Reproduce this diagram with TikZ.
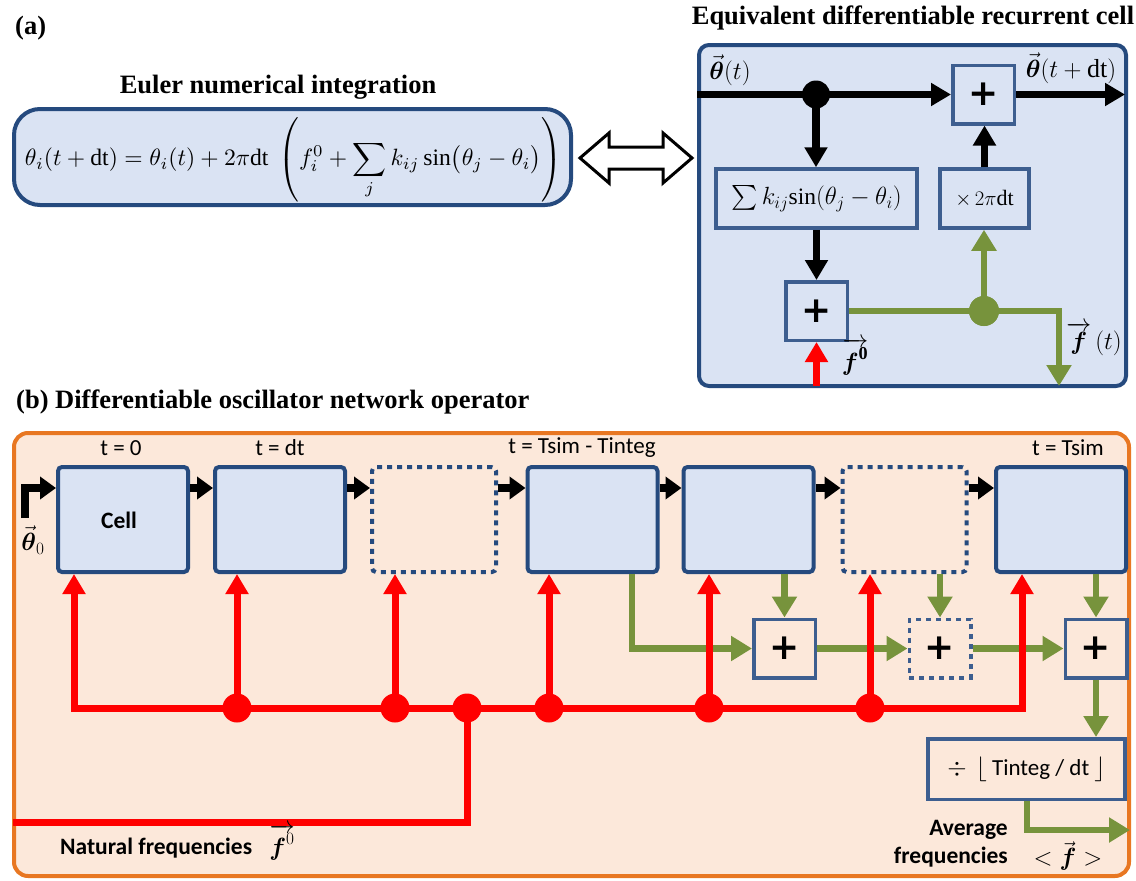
\documentclass[tikz,border=0pt]{standalone}
\usepackage{amsmath}
\usepackage{graphicx}
\usepackage{fontspec}
\setmainfont{Liberation Serif}
\newfontfamily\calibri{Carlito}
\newfontfamily\dejavu{DejaVu Sans}
\usetikzlibrary{arrows.meta,calc}
\definecolor{boxfill}{HTML}{DAE3F3}
\definecolor{cellborder}{HTML}{254A7E}
\definecolor{plusborder}{HTML}{3D5E8F}
\definecolor{orangeb}{HTML}{E87722}
\definecolor{peach}{HTML}{FCE8DA}
\definecolor{ogreen}{HTML}{77933C}
\definecolor{bred}{HTML}{FF0000}
\tikzset{
  ttl/.style={font=\bfseries\fontsize{26.5}{30}\selectfont, inner sep=0pt},
  sans/.style={font=\calibri\fontsize{23}{27}\selectfont, inner sep=0pt},
  sansb/.style={font=\calibri\bfseries\fontsize{23.5}{28}\selectfont, inner sep=0pt},
  mlab/.style={font=\fontsize{26}{30}\selectfont, inner sep=0pt},
  panelA/.style={draw=cellborder, fill=boxfill, line width=4pt, rounded corners=10pt, inner sep=0pt},
  panelB/.style={draw=orangeb, fill=peach, line width=4pt, rounded corners=14pt, inner sep=0pt},
  cellbox/.style={draw=cellborder, fill=boxfill, line width=4pt, rounded corners=4pt, minimum width=130pt, minimum height=105pt, inner sep=0pt},
  ghost/.style={draw=cellborder, line width=4pt, dash pattern=on 5pt off 5pt, rounded corners=4pt, minimum width=124pt, minimum height=105pt, inner sep=0pt},
  plusbox/.style={draw=plusborder, line width=3.5pt, minimum width=61.5pt, minimum height=58.5pt, inner sep=0pt, font=\dejavu\bfseries\fontsize{36}{36}\selectfont},
  opbox/.style={draw=plusborder, fill=boxfill, line width=3.5pt, minimum height=59pt, inner sep=0pt, font=\fontsize{23.5}{28}\selectfont},
  bdot/.style={circle, fill=black, minimum size=28pt, inner sep=0pt},
  gdot/.style={circle, fill=ogreen, minimum size=30pt, inner sep=0pt},
  rdot/.style={circle, fill=bred, minimum size=29pt, inner sep=0pt},
  blk/.style={draw=black, line width=7.5pt, -{Triangle[width=22pt,length=20pt]}},
  blkb/.style={draw=black, line width=8pt, -{Triangle[width=22pt,length=16pt]}},
  redline/.style={draw=bred, line width=7pt},
  redarr/.style={redline, -{Triangle[width=22pt,length=20pt]}},
  grnarr/.style={draw=ogreen, line width=6.5pt, -{Triangle[width=24pt,length=21pt]}},
}
\begin{document}
\begin{tikzpicture}[x=1pt,y=-1pt]
\useasboundingbox (0,0) rectangle (1136,881);

% ---------------- (a) ----------------
\node[ttl, anchor=west] (alab) at (15,28) {(a)};
\node[ttl, anchor=base] (eultitle) at (278,93) {Euler numerical integration};
\node[panelA, rounded corners=26pt, minimum width=557pt, minimum height=96pt] (eqbox) at (292.5,157) {};
\node[inner sep=0pt] (eqtext) at (293.5,160) {\resizebox{537pt}{!}{$\displaystyle \theta_i(t+\mathrm{dt}) = \theta_i(t) + 2\pi\mathrm{dt}\ \left(f_i^0 + \sum_j k_{ij}\sin\bigl(\theta_j-\theta_i\bigr)\right)$}};

\draw[line width=3pt, fill=white, line join=miter] (580,158) -- (609,133) -- (609,147) -- (663,147) -- (663,133) -- (692,158) -- (663,183) -- (663,169) -- (609,169) -- (609,183) -- cycle;

\node[ttl] (celltitle) at (913,18) {Equivalent differentiable recurrent cell};
\node[panelA, minimum width=427pt, minimum height=341pt] (cellA) at (912.5,215.5) {};
\node[plusbox, fill=boxfill] (pa) at (983.5,94.5) {+};
\node[opbox, minimum width=201pt] (sumb) at (816.5,198.5) {$\textstyle\sum k_{ij}\mathrm{sin}(\theta_j-\theta_i)$};
\node[opbox, minimum width=89pt, font=\fontsize{22}{26}\selectfont] (mulb) at (984.5,198.5) {$\times\,2\pi\mathrm{dt}$};
\node[plusbox, fill=boxfill] (pb) at (816.5,311) {+};
\node[bdot] (bd) at (816,94.5) {};
\node[gdot] (gd) at (984,311) {};
\coordinate (gcorner) at (1059,311);

\draw[blk] (cellA.west |- pa) -- (pa.west);
\draw[blk] (pa.east) -- ($(pa.east -| cellA.east)+(-3,0)$);
\draw[blk] (bd.center) -- (bd.center |- sumb.north);
\draw[blk] (mulb.north) -- (mulb.north |- pa.south);
\draw[blk] (sumb.south) -- (sumb.south |- pb.north);
\draw[redarr] ($(pb.south |- cellA.south)+(0,-2)$) -- (pb.south);
\draw[grnarr, line join=miter] (pb.east) -- (gcorner) -- ($(gcorner |- cellA.south)+(0,-2)$);
\draw[grnarr] (gd.center) -- (gd.center |- mulb.south);
\node[gdot] (gd2) at (984,311) {};

\node[mlab] (lth) at (730,70) {$\vec{\boldsymbol{\theta}}(t)$};
\node[mlab] (lthdt) at (1071,68) {$\vec{\boldsymbol{\theta}}(t+\mathrm{dt})$};
\node[mlab] (lf0) at (855,357) {$\overrightarrow{\boldsymbol{f}^{\mathbf{0}}}$};
\node[mlab] (lft) at (1094,339) {$\overrightarrow{\boldsymbol{f}}\,(t)$};

% ---------------- (b) ----------------
\node[ttl, anchor=west] (btitle) at (16,402) {(b) Differentiable oscillator network operator};
\node[panelB, minimum width=1115pt, minimum height=443pt] (panB) at (571.5,654.5) {};

\node[cellbox] (c1) at (123,519.5) {};
\node[sansb] (celltxt) at (119,520) {Cell};
\node[cellbox] (c2) at (280,519.5) {};
\node[ghost] (c3) at (434,519.5) {};
\node[cellbox] (c4) at (592.5,519.5) {};
\node[cellbox] (c5) at (748.5,519.5) {};
\node[ghost] (c6) at (904.5,519.5) {};
\node[cellbox] (c7) at (1061,519.5) {};

\node[sans] (t0) at (121,448) {t = 0};
\node[sans] (t1) at (280,448) {t = dt};
\node[sans] (t2) at (582,448) {t = Tsim - Tinteg};
\node[sans] (t3) at (1068,448) {t = Tsim};

\coordinate (ya) at (0,488);
\coordinate (th0) at (25,518);
\draw[blkb, line join=miter] (th0) |- (c1.west |- ya);
\draw[blkb] (c1.east |- ya) -- (c2.west |- ya);
\draw[blkb] (c2.east |- ya) -- (c3.west |- ya);
\draw[blkb] (c3.east |- ya) -- (c4.west |- ya);
\draw[blkb] (c4.east |- ya) -- (c5.west |- ya);
\draw[blkb] (c5.east |- ya) -- (c6.west |- ya);
\draw[blkb] (c6.east |- ya) -- (c7.west |- ya);
\node[mlab] (lth0) at (33,540) {$\vec{\boldsymbol{\theta}}_0$};

% plus boxes and averaging
\node[plusbox] (p1) at (784.5,648.5) {+};
\node[plusbox, dash pattern=on 5pt off 5pt] (p2) at (940,648.5) {+};
\node[plusbox] (p3) at (1096,648.5) {+};
\node[opbox, fill=none, minimum width=197pt, minimum height=60.5pt] (divb) at (1026.5,769) {{\calibri\fontsize{23}{27}\selectfont $\div$ \,$\lfloor$ Tinteg / dt $\rfloor$}};

% green network
\coordinate (g4) at (632,648.5);
\draw[grnarr, line join=miter] (g4 |- c4.south) -- (g4) -- (p1.west);
\draw[grnarr] (p1.north |- c5.south) -- (p1.north);
\draw[grnarr] (p1.east) -- (p2.west);
\draw[grnarr] (p2.north |- c6.south) -- (p2.north);
\draw[grnarr] (p2.east) -- (p3.west);
\draw[grnarr] (p3.north |- c7.south) -- (p3.north);
\draw[grnarr] (p3.south) -- (p3.south |- divb.north);
\coordinate (gout) at (1027,830);
\draw[grnarr, line join=miter] (gout |- divb.south) -- (gout) -- ($(panB.east |- gout)+(-1,0)$);

% red network
\coordinate (rL) at (74,708);
\coordinate (rR) at (1022,708);
\coordinate (rlow) at (467,822);
\draw[redline, {Triangle[width=22pt,length=20pt]}-{Triangle[width=22pt,length=20pt]}, line join=miter] (rL |- c1.south) -- (rL) -- (rR) -- (rR |- c7.south);
\node[rdot] (rd2) at (237,708) {};
\node[rdot] (rd3) at (395,708) {};
\node[rdot] (rdin) at (467,708) {};
\node[rdot] (rd4) at (549,708) {};
\node[rdot] (rd5) at (709,708) {};
\node[rdot] (rd6) at (870,708) {};
\draw[redarr] (rd2.center) -- (rd2.center |- c2.south);
\draw[redarr] (rd3.center) -- (rd3.center |- c3.south);
\draw[redarr] (rd4.center) -- (rd4.center |- c4.south);
\draw[redarr] (rd5.center) -- (rd5.center |- c5.south);
\draw[redarr] (rd6.center) -- (rd6.center |- c6.south);
\draw[redline, line join=miter] (rdin.center) -- (rlow) -- ($(panB.west |- rlow)+(1,0)$);

\node[sansb, anchor=west] (natf) at (60,848) {Natural frequencies};
\node[mlab] (natf0) at (282,842) {$\overrightarrow{\boldsymbol{f}^{0}}$};
\node[sansb, anchor=east, align=right] (avgf) at (1008,844) {Average\\frequencies};
\node[mlab] (avgv) at (1068,856) {$<\vec{\boldsymbol{f}}>$};
\end{tikzpicture}
\end{document}
